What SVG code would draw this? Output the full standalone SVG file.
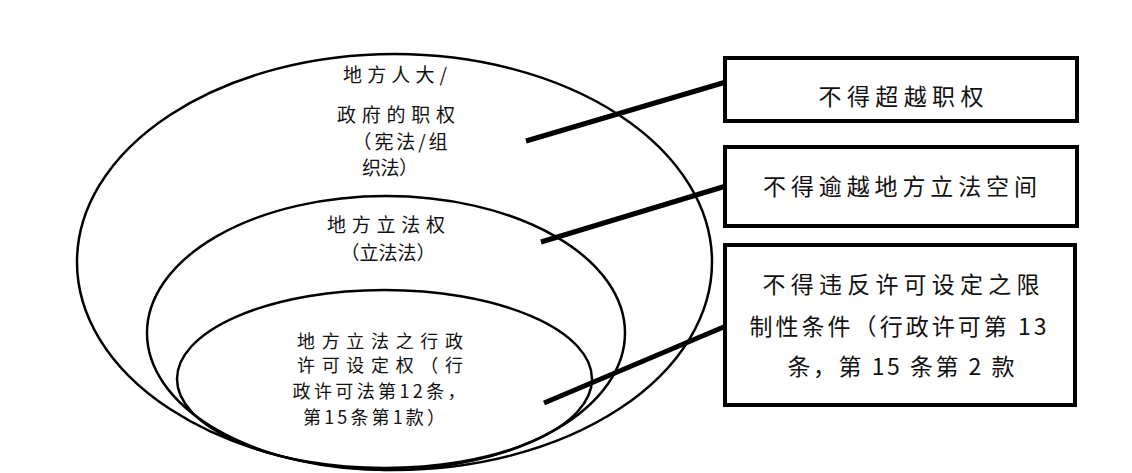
<svg xmlns="http://www.w3.org/2000/svg" width="1132" height="473" viewBox="0 0 1132 473">
<style>
.ell{fill:none;stroke:#000;stroke-width:2.5}
.box{fill:#fff;stroke:#000;stroke-width:4}
.con{stroke:#000;stroke-width:5;stroke-linecap:butt}
.t{font-family:"Noto Sans CJK SC","Liberation Sans",sans-serif;fill:#111;text-anchor:middle}
.s{font-size:19px}
.i{font-size:18px}
.b{font-size:23px}
</style>
<rect width="1132" height="473" fill="#fff"/>
<g id="outer">
<ellipse class="ell" cx="394.5" cy="262" rx="317.5" ry="208"/>
<text class="t s" x="395" y="82" textLength="104">地方人大/</text>
<text class="t s" x="396" y="122" textLength="118">政府的职权</text>
<text class="t s" x="400" y="149" textLength="95">（宪法/组</text>
<text class="t s" x="390" y="175" textLength="56">织法）</text>
</g>
<g id="middle">
<ellipse class="ell" cx="386" cy="333" rx="239" ry="137"/>
<text class="t s" x="386" y="232" textLength="118">地方立法权</text>
<text class="t s" x="388" y="260" textLength="95">（立法法）</text>
</g>
<g id="inner">
<ellipse class="ell" cx="384.5" cy="379" rx="207.5" ry="89"/>
<text class="t i" x="380" y="348" textLength="166">地方立法之行政</text>
<text class="t i" x="380" y="372" textLength="166">许可设定权（行</text>
<text class="t i" x="379" y="398" textLength="173">政许可法第12条，</text>
<text class="t i" x="374" y="424" textLength="142">第15条第1款）</text>
</g>
<g id="connectors">
<line class="con" x1="526" y1="141" x2="726" y2="82"/>
<line class="con" x1="541" y1="242" x2="726" y2="186"/>
<line class="con" x1="544" y1="403" x2="726" y2="326"/>
</g>
<g id="box1">
<rect class="box" x="725" y="58" width="352" height="63"/>
<text class="t b" x="901" y="105" textLength="165">不得超越职权</text>
</g>
<g id="box2">
<rect class="box" x="725" y="147" width="352" height="79"/>
<text class="t b" x="900" y="195" textLength="274">不得逾越地方立法空间</text>
</g>
<g id="box3">
<rect class="box" x="725" y="245" width="350" height="160"/>
<text class="t b" x="901" y="293" textLength="277">不得违反许可设定之限</text>
<text class="t b" x="898" y="335" textLength="297">制性条件（行政许可第 13</text>
<text class="t b" x="901" y="375" textLength="227">条，第 15 条第 2 款</text>
</g>
</svg>
